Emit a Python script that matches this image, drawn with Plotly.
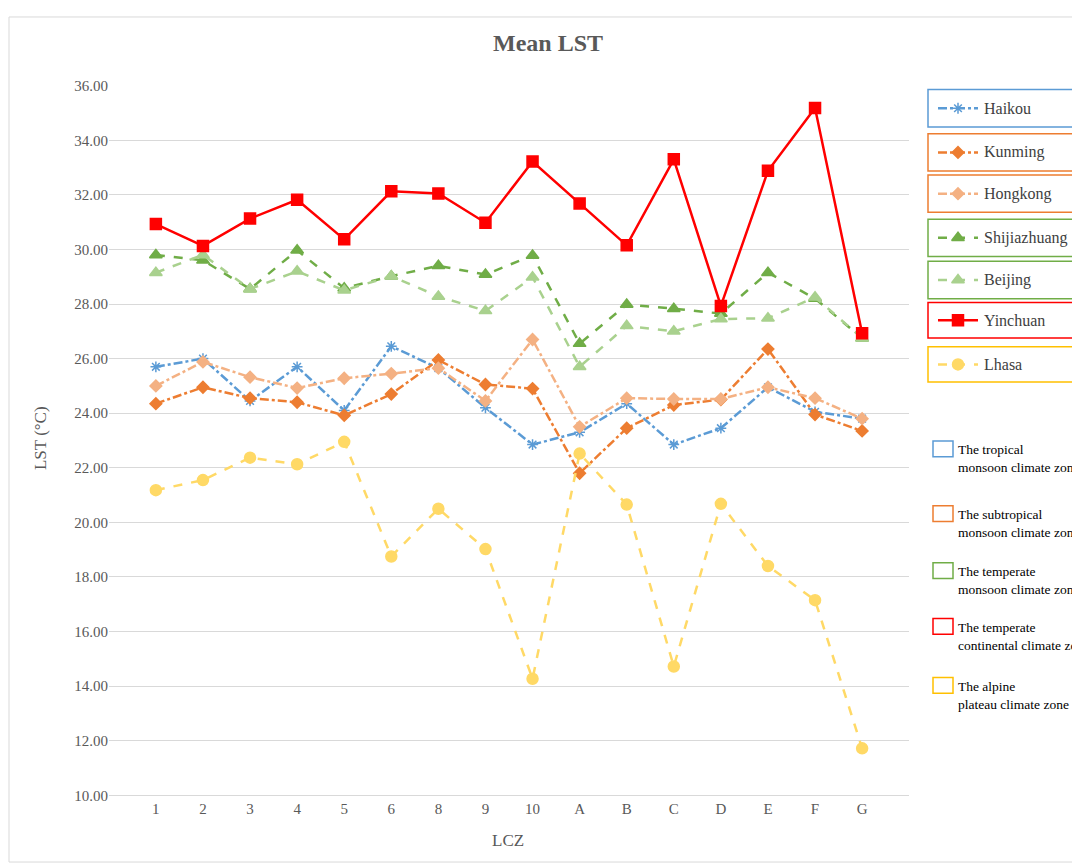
import plotly.graph_objects as go

lcz = ["1","2","3","4","5","6","8","9","10","A","B","C","D","E","F","G"]
haikou = [25.7,26.0,24.45,25.7,24.1,26.45,25.65,24.2,22.85,23.3,24.35,22.85,23.45,24.95,24.05,23.8]
kunming = [24.35,24.95,24.55,24.4,23.92,24.7,25.95,25.05,24.9,21.8,23.45,24.3,24.5,26.35,23.95,23.35]
hongkong = [25.0,25.88,25.32,24.92,25.28,25.45,25.65,24.45,26.7,23.5,24.55,24.52,24.52,24.95,24.55,23.8]
shijiazhuang = [29.8,29.6,28.55,29.97,28.58,29.02,29.4,29.08,29.78,26.55,27.98,27.83,27.65,29.15,28.2,26.75]
beijing = [29.15,29.8,28.55,29.2,28.5,29.02,28.28,27.75,28.98,25.7,27.2,27.0,27.45,27.48,28.25,26.75]
yinchuan = [30.93,30.13,31.13,31.82,30.37,32.13,32.05,30.98,33.22,31.68,30.15,33.3,27.93,32.88,35.18,26.93]
lhasa = [21.18,21.55,22.37,22.13,22.95,18.75,20.5,19.02,14.27,22.52,20.65,14.72,20.68,18.4,17.15,11.72]
yticks = [10,12,14,16,18,20,22,24,26,28,30,32,34,36]

W, H = 1080, 863
series = [
    ("Haikou", haikou, "#5b9bd5", "dashdot", "asterisk-open", 9, "#5b9bd5"),
    ("Kunming", kunming, "#ed7d31", "dashdot", "diamond", 9, "#ed7d31"),
    ("Hongkong", hongkong, "#f4b183", "dashdot", "diamond", 9, "#ed7d31"),
    ("Shijiazhuang", shijiazhuang, "#70ad47", "dash", "triangle-up", 11, "#70ad47"),
    ("Beijing", beijing, "#a9d18e", "dash", "triangle-up", 11, "#70ad47"),
    ("Yinchuan", yinchuan, "#ff0000", "solid", "square", 11, "#ff0000"),
    ("Lhasa", lhasa, "#ffd966", "dash", "circle", 11, "#ffc000"),
]

fig = go.Figure()
for name, vals, col, dash, sym, size, _ in series:
    fig.add_trace(go.Scatter(x=lcz, y=vals, name=name, mode="lines+markers",
                             line=dict(color=col, dash=dash, width=2.5),
                             marker=dict(symbol=sym, size=size, color=col, line=dict(color=col, width=1.5)),
                             showlegend=False))

boxes = [(75,113),(120,158),(162,200),(207,245),(250,288),(292,328),(337,373)]
font = "Liberation Serif, Times New Roman, serif"
shapes = []
annos = []
for (name, vals, col, dash, sym, size, bcol), (y0, y1) in zip(series, boxes):
    shapes.append(dict(type="rect", xref="x2", yref="y2", x0=920, x1=1070, y0=y0, y1=y1,
                       line=dict(color=bcol, width=1.5)))
    yc = (y0 + y1) / 2
    fig.add_trace(go.Scatter(x=[930, 970], y=[yc, yc], xaxis="x2", yaxis="y2", mode="lines",
                             line=dict(color=col, dash=dash, width=2.5), showlegend=False, hoverinfo="skip"))
    fig.add_trace(go.Scatter(x=[950], y=[yc], xaxis="x2", yaxis="y2", mode="markers",
                             marker=dict(symbol=sym, size=size, color=col, line=dict(color=col, width=1.5)),
                             showlegend=False, hoverinfo="skip"))
    annos.append(dict(xref="x2", yref="y2", x=974, y=yc, text=name, showarrow=False, xanchor="left",
                      font=dict(family=font, size=16, color="#404040")))

zones = [("The tropical<br>monsoon climate zone", "#5b9bd5", 441),
         ("The subtropical<br>monsoon climate zone", "#ed7d31", 507),
         ("The temperate<br>monsoon climate zone", "#70ad47", 565),
         ("The temperate<br>continental climate zone", "#ff0000", 622),
         ("The alpine<br>plateau climate zone", "#ffc000", 682)]
for text, col, y in zones:
    shapes.append(dict(type="rect", xref="x2", yref="y2", x0=925, x1=945, y0=y-8, y1=y+8,
                       line=dict(color=col, width=1.5)))
    annos.append(dict(xref="x2", yref="y2", x=948, y=y+10, text=text, showarrow=False, xanchor="left",
                      align="left", font=dict(family=font, size=13.5, color="#000000")))

shapes.append(dict(type="rect", xref="x2", yref="y2", x0=1, x1=W-1, y0=1, y1=H-1,
                   line=dict(color="#d9d9d9", width=1)))
annos.append(dict(xref="x2", yref="y2", x=540, y=28, text="<b>Mean LST</b>", showarrow=False,
                  font=dict(family=font, size=24, color="#595959")))
annos.append(dict(xref="x2", yref="y2", x=500, y=840, text="LCZ", showarrow=False,
                  font=dict(family=font, size=17, color="#595959")))
annos.append(dict(xref="x2", yref="y2", x=32, y=430, text="LST (°C)", showarrow=False, textangle=-90,
                  font=dict(family=font, size=17, color="#595959")))

fig.update_layout(
    width=W, height=H, margin=dict(l=0, r=0, t=0, b=0),
    paper_bgcolor="white", plot_bgcolor="rgba(0,0,0,0)",
    font=dict(family=font, size=15, color="#595959"),
    xaxis=dict(domain=[101/W, 901/W], type="category", showgrid=False, showline=True,
               linecolor="#d9d9d9", ticks="", tickfont=dict(size=15, color="#595959"), anchor="y"),
    yaxis=dict(domain=[1-794/H, 1-71/H], range=[10, 36], tickvals=yticks,
               ticktext=[f"{v:.2f}" for v in yticks], gridcolor="#d9d9d9", zeroline=False,
               showline=False, tickfont=dict(size=15, color="#595959"), anchor="x"),
    xaxis2=dict(domain=[0, 1], range=[0, W], visible=False, anchor="y2", fixedrange=True),
    yaxis2=dict(domain=[0, 1], range=[H, 0], visible=False, anchor="x2", fixedrange=True),
    shapes=shapes, annotations=annos, showlegend=False,
)
fig.write_html("out.html")
